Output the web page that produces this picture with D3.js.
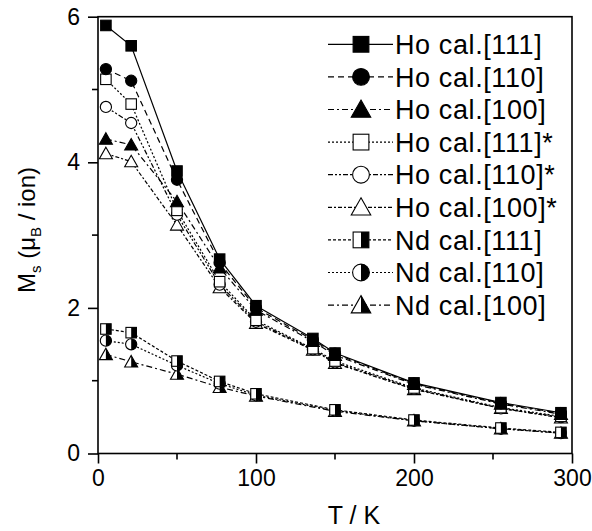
<!DOCTYPE html>
<html lang="en">
<head>
<meta charset="UTF-8">
<title>Ms vs T</title>
<script src="https://d3js.org/d3.v7.min.js"></script>
<style>
  body { margin: 0; background: #fff; }
  svg { display: block; font-family: "Liberation Sans", Arial, sans-serif; }
</style>
</head>
<body>
<div id="chart"></div>
<script>
// temperatures (K)
const tempHo = [5, 21, 50, 77, 100, 136, 150, 200, 255, 293];
const tempNd = [5, 21, 50, 77, 100, 150, 200, 255, 293];

// saturation moment (muB / ion)
const ho111 = [5.88, 5.60, 3.88, 2.67, 2.03, 1.58, 1.38, 0.97, 0.70, 0.56];
const ho110 = [5.28, 5.12, 3.76, 2.62, 2.00, 1.56, 1.37, 0.96, 0.69, 0.55];
const ho100 = [4.32, 4.24, 3.46, 2.55, 1.97, 1.54, 1.35, 0.95, 0.68, 0.54];
const ho111s = [5.14, 4.80, 3.34, 2.36, 1.83, 1.44, 1.27, 0.90, 0.63, 0.51];
const ho110s = [4.76, 4.54, 3.28, 2.32, 1.81, 1.43, 1.25, 0.89, 0.62, 0.50];
const ho100s = [4.12, 4.01, 3.14, 2.28, 1.79, 1.42, 1.24, 0.88, 0.62, 0.49];
const nd111 = [1.71, 1.66, 1.27, 0.99, 0.82, 0.60, 0.46, 0.35, 0.29];
const nd110 = [1.55, 1.50, 1.21, 0.96, 0.80, 0.59, 0.45, 0.34, 0.28];
const nd100 = [1.36, 1.26, 1.09, 0.91, 0.79, 0.58, 0.45, 0.34, 0.28];

const seriesNames = ['Ho cal.[111]', 'Ho cal.[110]', 'Ho cal.[100]',
  'Ho cal.[111]*', 'Ho cal.[110]*', 'Ho cal.[100]*',
  'Nd cal.[111]', 'Nd cal.[110]', 'Nd cal.[100]'];

const xTicks = [0, 100, 200, 300];
const yTicks = [0, 2, 4, 6];

const series = [
  { name: seriesNames[0], t: tempHo, v: ho111, shape: 'square', fill: 'full', dash: null },
  { name: seriesNames[1], t: tempHo, v: ho110, shape: 'circle', fill: 'full', dash: '6,4' },
  { name: seriesNames[2], t: tempHo, v: ho100, shape: 'triangle', fill: 'full', dash: '6,3,2,3' },
  { name: seriesNames[3], t: tempHo, v: ho111s, shape: 'square', fill: 'open', dash: '2,2' },
  { name: seriesNames[4], t: tempHo, v: ho110s, shape: 'circle', fill: 'open', dash: '5,2,2,2,2,2' },
  { name: seriesNames[5], t: tempHo, v: ho100s, shape: 'triangle', fill: 'open', dash: '4,2,2,2' },
  { name: seriesNames[6], t: tempNd, v: nd111, shape: 'square', fill: 'half', dash: '3,2' },
  { name: seriesNames[7], t: tempNd, v: nd110, shape: 'circle', fill: 'half', dash: '2,2' },
  { name: seriesNames[8], t: tempNd, v: nd100, shape: 'triangle', fill: 'half', dash: '6,3,2,3' }
];

const width = 592, height = 531;
const x = d3.scaleLinear().domain([0, 300]).range([98, 572]);
const y = d3.scaleLinear().domain([0, 6]).range([453.5, 16.7]);

const svg = d3.select('#chart').append('svg')
  .attr('width', width)
  .attr('height', height);

// draw one marker at (cx, cy), k = scale factor
function marker(g, shape, fill, cx, cy, k) {
  const sw = 1.1;
  const bg = fill === 'full' ? '#000' : '#fff';
  if (shape === 'square') {
    const s = 10.5 * k;
    g.append('rect').attr('x', cx - s / 2).attr('y', cy - s / 2)
      .attr('width', s).attr('height', s)
      .attr('fill', bg).attr('stroke', '#000').attr('stroke-width', sw);
    if (fill === 'half') {
      g.append('rect').attr('x', cx).attr('y', cy - s / 2)
        .attr('width', s / 2).attr('height', s).attr('fill', '#000');
    }
  } else if (shape === 'circle') {
    const r = 5.6 * k;
    g.append('circle').attr('cx', cx).attr('cy', cy).attr('r', r)
      .attr('fill', bg).attr('stroke', '#000').attr('stroke-width', sw);
    if (fill === 'half') {
      g.append('path')
        .attr('d', `M${cx},${cy - r}A${r},${r} 0 0 1 ${cx},${cy + r}Z`)
        .attr('fill', '#000');
    }
  } else {
    const w = 13 * k, h = 11.5 * k;
    const pts = [[cx, cy - h * 0.55], [cx + w / 2, cy + h * 0.45], [cx - w / 2, cy + h * 0.45]];
    g.append('path').attr('d', 'M' + pts.join('L') + 'Z')
      .attr('fill', bg).attr('stroke', '#000').attr('stroke-width', sw)
      .attr('stroke-linejoin', 'miter');
    if (fill === 'half') {
      const half = [[cx, cy - h * 0.55], [cx + w / 2, cy + h * 0.45], [cx, cy + h * 0.45]];
      g.append('path').attr('d', 'M' + half.join('L') + 'Z').attr('fill', '#000');
    }
  }
}

// lines
const line = d3.line().x(d => x(d[0])).y(d => y(d[1]));
series.forEach(s => {
  const pts = s.t.map((t, i) => [t, s.v[i]]);
  svg.append('path')
    .attr('d', line(pts))
    .attr('fill', 'none')
    .attr('stroke', '#000')
    .attr('stroke-width', 1.2)
    .attr('stroke-dasharray', s.dash);
});

// markers, drawn bottom-up so filled Ho ones stay on top
const markG = svg.append('g');
series.slice().reverse().forEach(s => {
  s.t.forEach((t, i) => marker(markG, s.shape, s.fill, x(t), y(s.v[i]), 1));
});

// frame
svg.append('rect')
  .attr('x', x(0)).attr('y', y(6))
  .attr('width', x(300) - x(0)).attr('height', y(0) - y(6))
  .attr('fill', 'none').attr('stroke', '#000').attr('stroke-width', 1.6);

// axes
const xAxis = d3.axisBottom(x).tickValues(xTicks).tickFormat(d3.format('d'))
  .tickSize(10).tickPadding(6);
const yAxis = d3.axisLeft(y).tickValues(yTicks).tickFormat(d3.format('d'))
  .tickSize(10).tickPadding(8);

const gx = svg.append('g').attr('transform', `translate(0,${y(0)})`).call(xAxis);
const gy = svg.append('g').attr('transform', `translate(${x(0)},0)`).call(yAxis);

[gx, gy].forEach(g => {
  g.select('.domain').remove();
  g.selectAll('line').attr('stroke-width', 1.6);
  g.selectAll('text').attr('font-size', 23).attr('fill', '#000')
    .attr('font-family', '"Liberation Sans", Arial, sans-serif');
});

// minor ticks
[50, 150, 250].forEach(t => {
  svg.append('line').attr('x1', x(t)).attr('x2', x(t))
    .attr('y1', y(0)).attr('y2', y(0) + 6)
    .attr('stroke', '#000').attr('stroke-width', 1.6);
});
[1, 3, 5].forEach(v => {
  svg.append('line').attr('x1', x(0) - 6).attr('x2', x(0))
    .attr('y1', y(v)).attr('y2', y(v))
    .attr('stroke', '#000').attr('stroke-width', 1.6);
});

// axis titles
svg.append('text')
  .attr('x', 354).attr('y', 524)
  .attr('text-anchor', 'middle')
  .attr('font-size', 25)
  .text('T /  K');

const yl = svg.append('text')
  .attr('transform', 'translate(35,230) rotate(-90)')
  .attr('text-anchor', 'middle')
  .attr('font-size', 24);
yl.append('tspan').text('M');
yl.append('tspan').attr('font-size', 15).attr('dy', 6).text('s');
yl.append('tspan').attr('dy', -6).text(' (\u03bc');
yl.append('tspan').attr('font-size', 15).attr('dy', 6).text('B');
yl.append('tspan').attr('dy', -6).text(' / ion)');

// legend
const legend = svg.append('g');
series.forEach((s, i) => {
  const cy = 44.3 + i * 32.6;
  legend.append('line')
    .attr('x1', 328).attr('x2', 393)
    .attr('y1', cy).attr('y2', cy)
    .attr('stroke', '#000').attr('stroke-width', 1.2)
    .attr('stroke-dasharray', s.dash);
  marker(legend, s.shape, s.fill, 361, cy, 1.5);
  legend.append('text')
    .attr('x', 395).attr('y', cy)
    .attr('dy', '0.36em')
    .attr('font-size', 27)
    .attr('letter-spacing', 0.6)
    .text(s.name);
});
</script>
</body>
</html>
